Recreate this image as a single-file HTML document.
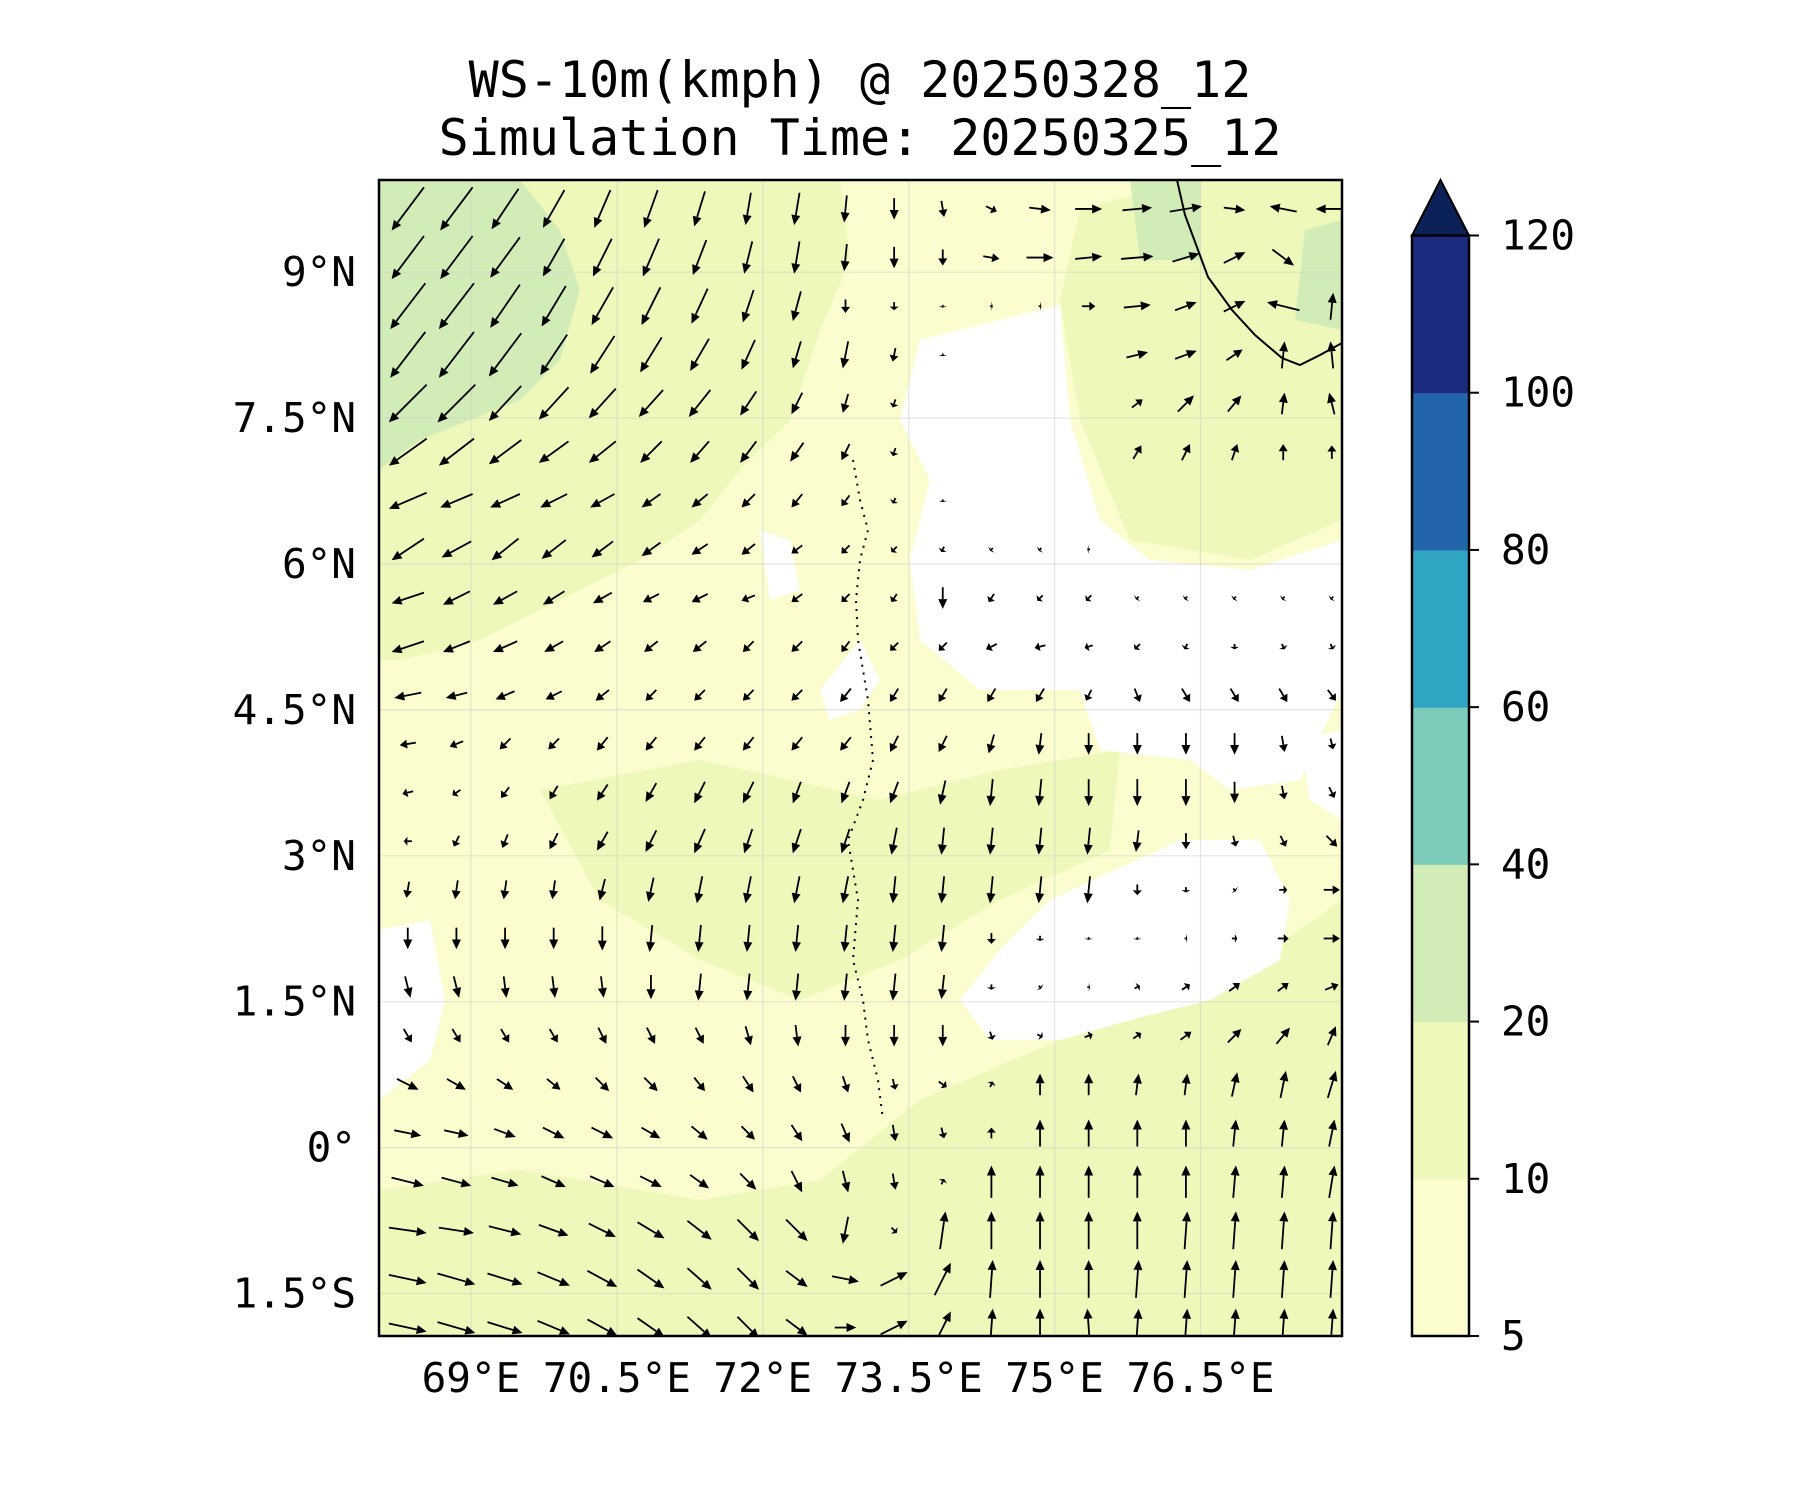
<!DOCTYPE html>
<html><head><meta charset="utf-8"><style>
body{margin:0;background:#fff;}
svg{display:block;font-family:"DejaVu Sans Mono","Liberation Mono",monospace;}
</style></head><body>
<svg id="chart" width="1800" height="1500" viewBox="0 0 1800 1500">
<defs><clipPath id="mapclip"><rect x="379" y="180" width="963" height="1156"/></clipPath></defs>
<text x="860" y="97" font-size="50" text-anchor="middle">WS-10m(kmph) @ 20250328_12</text>
<text x="860" y="155" font-size="50" text-anchor="middle">Simulation Time: 20250325_12</text>
<g clip-path="url(#mapclip)">
<rect x="379" y="180" width="963" height="1156" fill="#fbfdce"/>
<path d="M379,180 L520,180 L560,230 L580,290 L560,360 L520,400 L470,430 L420,440 L395,460 L379,470 Z" fill="#d2ecb8"/>
<path d="M520,180 L840,180 L850,260 L820,330 L790,420 L740,470 L700,520 L640,560 L560,600 L480,640 L400,660 L379,660 L379,470 L420,440 L520,400 L560,360 L580,290 L560,230 Z" fill="#eef8ba"/>
<path d="M1080,210 L1190,180 L1342,180 L1342,520 L1250,560 L1130,540 L1080,420 L1060,300 Z" fill="#eef8ba"/>
<path d="M1130,180 L1200,180 L1200,260 L1140,260 Z M1305,230 L1342,220 L1342,330 L1295,320 Z" fill="#d2ecb8"/>
<path d="M540,790 L700,760 L880,800 L1000,770 L1120,750 L1110,850 L1000,900 L900,960 L800,1000 L700,960 L600,900 Z" fill="#eef8ba"/>
<path d="M379,1190 L520,1170 L700,1200 L820,1180 L920,1100 L1060,1040 L1200,1000 L1342,900 L1342,1336 L379,1336 Z" fill="#eef8ba"/>
<path d="M920,340 L1060,305 L1070,420 L1100,520 L1150,560 L1250,570 L1342,540 L1342,690 L1300,780 L1230,790 L1190,760 L1100,750 L1080,690 L980,690 L920,640 L910,560 L930,480 L900,420 Z" fill="#ffffff"/>
<path d="M1050,900 L1180,840 L1260,840 L1290,900 L1280,960 L1210,1000 L1130,1020 L1060,1040 L990,1040 L960,1000 L1000,950 Z" fill="#ffffff"/>
<path d="M379,930 L430,920 L445,1000 L430,1060 L379,1100 Z" fill="#ffffff"/>
<path d="M860,640 L880,680 L860,710 L830,720 L820,690 Z M1300,740 L1342,730 L1342,820 L1310,800 Z M760,530 L790,540 L800,590 L770,600 Z" fill="#ffffff"/>
<g id="grid"></g>
<g id="arrows"></g>
<path d="M1177,180 L1185,215 L1198,250 L1208,277 L1232,310 L1255,335 L1282,358 L1300,365 L1320,355 L1342,343" fill="none" stroke="#000" stroke-width="2"/>
<path d="M853,460 L860,500 L868,530 L860,560 L856,600 L858,640 L868,700 L873,760 L863,800 L848,840 L858,900 L853,960 L863,1000 L868,1040 L878,1080 L883,1120" fill="none" stroke="#000" stroke-width="2" stroke-dasharray="2,6"/>
</g>
<rect x="379" y="180" width="963" height="1156" fill="none" stroke="#000" stroke-width="2.5"/>
<g id="axes"></g>
<g id="cbar"></g>
</svg>
<script>
const NS="http://www.w3.org/2000/svg";
const lonTicks=[69,70.5,72,73.5,75,76.5];
const lonLabels=["69°E","70.5°E","72°E","73.5°E","75°E","76.5°E"];
const latTicks=[9,7.5,6,4.5,3,1.5,0,-1.5];
const latLabels=["9°N","7.5°N","6°N","4.5°N","3°N","1.5°N","0°","1.5°S"];
const cbLevels=[5,10,20,40,60,80,100,120];
const cbColors=["#fbfdce","#eef8ba","#d2ecb8","#7dcbbb","#30a5c3","#2265aa","#1d2b7e"];
const cbExtendColor="#0b2158";
const gridLons=[68.35,68.85,69.35,69.85,70.35,70.85,71.35,71.85,72.35,72.85,73.35,73.85,74.35,74.85,75.35,75.85,76.35,76.85,77.35,77.85];
const gridLats=[9.65,9.15,8.65,8.15,7.65,7.15,6.65,6.15,5.65,5.15,4.65,4.15,3.65,3.15,2.65,2.15,1.65,1.15,0.65,0.15,-0.35,-0.85,-1.35,-1.85];
const U=[
[-12,-12,-10,-8,-6,-5,-4,-2,-2,-1,0,1,4,8,10,11,12,8,-10,-12],
[-12,-12,-11,-8,-7,-6,-5,-3,-2,-1,0,0,6,10,10,12,10,8,8,0],
[-13,-13,-11,-9,-8,-7,-6,-4,-3,0,0,0,1,1,5,10,8,8,-12,1],
[-13,-13,-12,-10,-9,-8,-7,-5,-3,-2,-1,0,0,0,0,8,8,6,1,-1],
[-14,-14,-12,-11,-10,-9,-8,-6,-4,-2,-1,0,0,0,0,4,6,5,1,-2],
[-14,-13,-12,-11,-10,-8,-7,-6,-5,-3,-1,0,0,0,0,3,3,2,0,0],
[-14,-12,-11,-10,-9,-7,-6,-5,-4,-3,-1,0,0,0,0,0,0,0,0,0],
[-12,-11,-10,-9,-8,-7,-6,-5,-4,-3,-2,-1,-1,-1,-1,0,0,0,0,0],
[-12,-10,-9,-8,-7,-6,-6,-5,-4,-3,-2,0,-2,-2,-2,-1,-1,-1,-1,-1],
[-12,-10,-9,-7,-6,-5,-5,-4,-4,-3,-3,-3,-4,-4,-3,-2,-1,0,1,1],
[-10,-8,-7,-6,-5,-4,-4,-4,-4,-4,-3,-3,-3,-3,-2,2,3,3,3,3],
[-6,-5,-4,-4,-4,-4,-4,-4,-4,-4,-3,-3,-2,-1,0,0,0,0,1,1],
[-4,-3,-3,-3,-4,-4,-4,-4,-3,-3,-3,-2,-1,-1,0,0,0,0,1,2],
[-3,-2,-2,-3,-4,-4,-4,-3,-3,-3,-2,-1,-1,-1,-1,-1,0,1,2,4],
[-1,-1,-1,-1,-2,-2,-2,-2,-2,-2,-1,-1,-1,-1,-1,0,0,1,3,6],
[0,0,0,0,0,-1,-1,-1,-1,-1,-1,-1,0,0,0,0,1,2,4,6],
[2,2,1,1,1,0,-1,-1,-1,-1,-1,-1,0,1,1,2,3,4,4,5],
[3,3,3,3,3,3,3,2,1,0,0,0,1,2,3,3,4,5,5,3],
[8,7,6,5,5,5,4,4,3,2,1,3,1,0,0,1,1,2,2,3],
[10,9,8,8,8,7,6,5,4,3,1,1,0,0,0,0,0,1,1,2],
[12,11,10,9,9,8,7,6,4,2,1,1,0,0,0,0,0,1,1,2],
[14,13,12,11,10,10,9,8,8,-2,2,2,0,0,0,0,1,1,1,1],
[14,14,13,12,11,10,9,8,8,10,10,6,1,0,0,1,1,1,1,1],
[14,14,13,12,11,10,9,8,8,8,10,6,1,0,-1,1,1,1,1,1]];
const V=[
[-16,-16,-15,-14,-14,-14,-13,-12,-12,-10,-8,-6,-2,-1,0,1,2,-1,2,0],
[-16,-16,-15,-14,-14,-14,-13,-12,-12,-10,-8,-6,-1,0,1,1,3,4,-6,0],
[-17,-17,-16,-15,-14,-14,-13,-12,-11,-5,-3,-1,0,0,0,1,3,4,3,10],
[-17,-17,-16,-15,-14,-13,-12,-11,-10,-10,-5,-1,0,0,0,2,3,4,10,10],
[-14,-14,-13,-12,-11,-10,-10,-9,-8,-7,-3,0,0,0,0,3,6,6,8,8],
[-10,-10,-9,-8,-8,-8,-8,-8,-7,-6,-3,0,0,0,0,5,6,6,6,5],
[-6,-5,-5,-5,-5,-5,-5,-5,-5,-4,-2,-1,0,0,0,0,0,0,0,0],
[-8,-6,-8,-7,-6,-5,-4,-4,-3,-3,-2,-2,-1,-1,0,0,0,0,0,0],
[-4,-5,-5,-5,-4,-3,-3,-2,-3,-3,-3,-8,-3,-2,-2,-1,-1,-1,-1,-1],
[-4,-4,-4,-4,-4,-4,-4,-4,-4,-4,-3,-3,-2,-1,-1,-2,-2,-2,-2,-2],
[-2,-2,-3,-3,-4,-4,-4,-4,-4,-5,-5,-5,-5,-5,-4,-5,-5,-5,-5,-4],
[-1,-2,-4,-4,-5,-5,-5,-5,-5,-5,-6,-6,-7,-8,-8,-8,-8,-8,-6,-4],
[-1,-2,-4,-5,-6,-7,-8,-8,-8,-8,-8,-9,-10,-10,-10,-10,-10,-8,-5,-4],
[0,-4,-5,-6,-7,-8,-9,-9,-9,-9,-10,-10,-10,-10,-10,-8,-6,-4,-4,-4],
[-6,-7,-7,-7,-8,-9,-10,-10,-10,-10,-10,-10,-10,-10,-10,-4,-2,-1,0,0],
[-8,-8,-8,-8,-9,-10,-10,-10,-10,-10,-10,-10,-4,-2,-1,-1,0,0,0,0],
[-8,-8,-8,-8,-8,-9,-10,-10,-10,-10,-10,-9,-2,-1,0,1,2,3,3,2],
[-5,-5,-5,-5,-6,-6,-6,-7,-8,-8,-8,-8,-3,-1,1,2,3,5,6,7],
[-4,-4,-4,-4,-5,-5,-5,-6,-6,-6,-4,-2,2,8,8,8,8,9,10,10],
[-2,-2,-3,-4,-4,-4,-5,-5,-6,-7,-6,-4,4,10,10,10,10,10,10,10],
[-3,-3,-3,-4,-4,-4,-5,-6,-8,-8,-6,2,12,12,12,12,12,12,12,12],
[-2,-2,-3,-4,-5,-6,-7,-8,-8,-10,-2,14,14,14,14,14,14,14,14,14],
[-3,-4,-4,-5,-6,-7,-8,-8,-6,-2,5,12,14,14,14,14,14,14,14,14],
[-3,-4,-4,-5,-6,-7,-8,-8,-6,0,5,12,14,14,14,14,14,14,14,14]];
function xOf(lon){return 471+(lon-69)*97.27;}
function yOf(lat){return 1147.6-lat*97.27;}
function mk(tag,attrs,parent){const e=document.createElementNS(NS,tag);for(const k in attrs)e.setAttribute(k,attrs[k]);parent.appendChild(e);return e;}
const grid=document.getElementById('grid');
lonTicks.forEach(l=>{const e=mk('line',{x1:xOf(l),x2:xOf(l),y1:180,y2:1336,stroke:'#ccc','stroke-opacity':0.5,'stroke-width':1.2},grid);

});
latTicks.forEach(l=>{const e=mk('line',{x1:379,x2:1342,y1:yOf(l),y2:yOf(l),stroke:'#ccc','stroke-opacity':0.5,'stroke-width':1.2},grid);

});
const arrows=document.getElementById('arrows');
const S=2.7;
gridLats.forEach((lat,i)=>{gridLons.forEach((lon,j)=>{
 const u=U[i][j],v=V[i][j];const sp=Math.hypot(u,v);if(sp<0.5)return;
 const cx=xOf(lon),cy=yOf(lat);const L=sp*S;const dx=u/sp,dy=-v/sp;
 const x0=cx-dx*L/2,y0=cy-dy*L/2,x1=cx+dx*L/2,y1=cy+dy*L/2;
 const hl=Math.min(10,L*0.45),hw=4.5;
 const bx=x1-dx*hl,by=y1-dy*hl;
 const g=mk('g',{},arrows);
 
 
 mk('line',{x1:x0,y1:y0,x2:bx,y2:by,stroke:'#000','stroke-width':1.8},g);
 mk('polygon',{points:`${x1},${y1} ${bx-dy*hw},${by+dx*hw} ${bx+dy*hw},${by-dx*hw}`,fill:'#000'},g);
});});
const axes=document.getElementById('axes');
lonTicks.forEach((l,i)=>{const t=mk('text',{x:xOf(l),y:1392,'font-size':41,'text-anchor':'middle'},axes);t.textContent=lonLabels[i];

});
latTicks.forEach((l,i)=>{const t=mk('text',{x:356,y:yOf(l)+14,'font-size':41,'text-anchor':'end'},axes);t.textContent=latLabels[i];

});
const cb=document.getElementById('cbar');
const cbTop=235.5,cbBot=1336,cbX=1412,cbW=57;const seg=(cbBot-cbTop)/(cbLevels.length-1);
cbColors.forEach((c,i)=>{const r=mk('rect',{x:cbX,y:cbBot-(i+1)*seg,width:cbW,height:seg+0.5,fill:c},cb);

});
const tri=mk('polygon',{points:`${cbX},${cbTop} ${cbX+cbW/2},180 ${cbX+cbW},${cbTop}`,fill:cbExtendColor,stroke:'#000','stroke-width':2},cb);


const fr=mk('rect',{x:cbX,y:cbTop,width:cbW,height:cbBot-cbTop,fill:'none',stroke:'#000','stroke-width':2.5},cb);


cbLevels.forEach((lv,i)=>{const y=cbBot-i*seg;
 const tk=mk('line',{x1:cbX+cbW,x2:cbX+cbW+10,y1:y,y2:y,stroke:'#000','stroke-width':2},cb);
 
 
 const t=mk('text',{x:1501,y:y+14,'font-size':41},cb);t.textContent=lv;
 
 });
</script>
</body></html>
